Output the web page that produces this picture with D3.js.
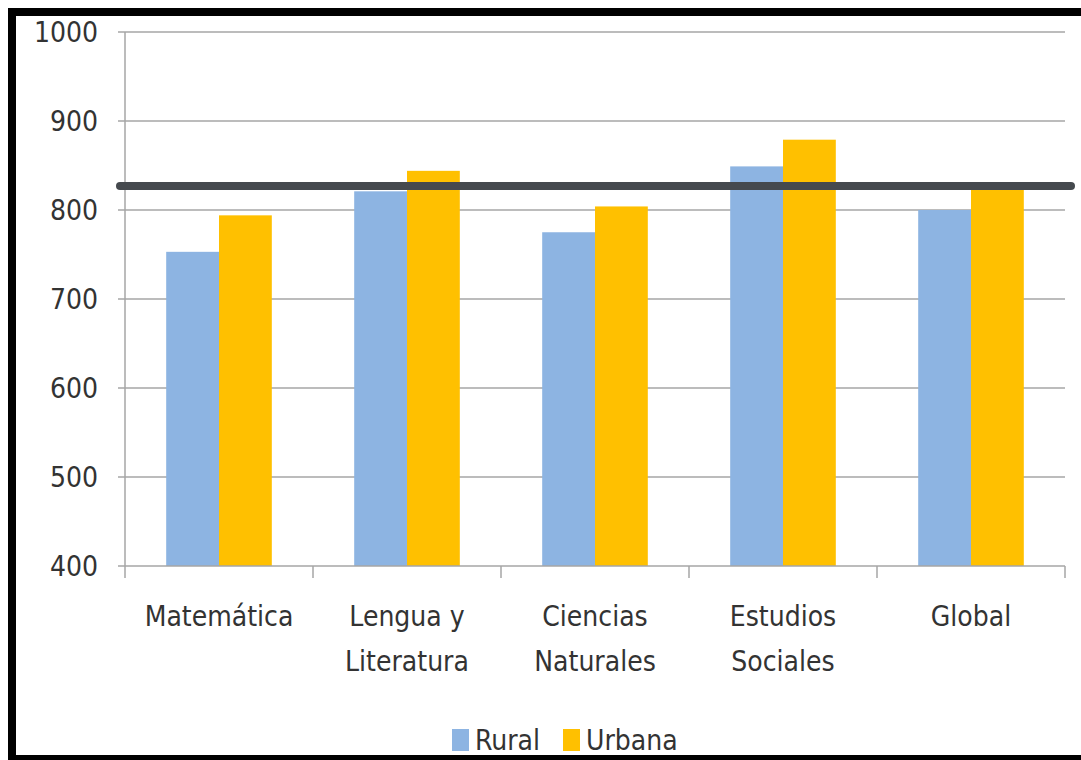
<!DOCTYPE html>
<html>
<head>
<meta charset="utf-8">
<script src="https://cdn.jsdelivr.net/npm/d3@7"></script>
<style>
  body { margin: 0; background: #fff; }
  svg text { font-family: "Liberation Sans Narrow", "DejaVu Sans Condensed", sans-serif; fill: #333; }
</style>
</head>
<body>
<svg id="chart" width="1081" height="760"></svg>
<script>
const categories = [['Matemática'], ['Lengua y', 'Literatura'], ['Ciencias', 'Naturales'], ['Estudios', 'Sociales'], ['Global']];
const series = ['Rural', 'Urbana'];
const rural = [753, 821, 775, 849, 800];
const urbana = [794, 844, 804, 879, 826];
const refValue = 827;
const yTicks = [400, 500, 600, 700, 800, 900, 1000];
const colors = ['#8db4e2', '#ffc000'];

const svg = d3.select('#chart');
const plotLeft = 125, plotRight = 1065, plotTop = 32, plotBottom = 566;

const x = d3.scaleBand().domain(d3.range(categories.length)).range([plotLeft, plotRight]);
const xInner = d3.scaleBand().domain(series).range([0, x.bandwidth()]).paddingOuter(0.78).paddingInner(0);
const y = d3.scaleLinear().domain([400, 1000]).range([plotBottom, plotTop]);

// gridlines
svg.append('g').selectAll('line').data(yTicks.slice(1)).join('line')
  .attr('x1', plotLeft).attr('x2', plotRight)
  .attr('y1', d => y(d)).attr('y2', d => y(d))
  .attr('stroke', '#a6a6a6').attr('stroke-width', 1.5);

// y axis
svg.append('line').attr('x1', plotLeft).attr('x2', plotLeft).attr('y1', plotTop).attr('y2', plotBottom)
  .attr('stroke', '#a6a6a6').attr('stroke-width', 1.5);
svg.append('g').selectAll('line').data(yTicks).join('line')
  .attr('x1', plotLeft - 7).attr('x2', plotLeft)
  .attr('y1', d => y(d)).attr('y2', d => y(d))
  .attr('stroke', '#a6a6a6').attr('stroke-width', 1.5);
svg.append('g').selectAll('text').data(yTicks).join('text')
  .attr('x', plotLeft - 27).attr('y', d => y(d) + 10)
  .attr('text-anchor', 'end').attr('font-size', 28)
  .text(d => d);

// bars
const data = categories.map((c, i) => [rural[i], urbana[i]]);
const g = svg.append('g').selectAll('g').data(data).join('g')
  .attr('transform', (d, i) => `translate(${x(i)},0)`);
g.selectAll('rect').data(d => d.map((v, j) => ({ s: series[j], v: v, j: j }))).join('rect')
  .attr('x', d => xInner(d.s))
  .attr('width', xInner.bandwidth())
  .attr('y', d => y(d.v))
  .attr('height', d => plotBottom - y(d.v))
  .attr('fill', d => colors[d.j]);

// x axis
svg.append('line').attr('x1', plotLeft).attr('x2', plotRight).attr('y1', plotBottom).attr('y2', plotBottom)
  .attr('stroke', '#a6a6a6').attr('stroke-width', 1.5);
svg.append('g').selectAll('line').data(d3.range(categories.length + 1)).join('line')
  .attr('x1', i => plotLeft + i * x.step()).attr('x2', i => plotLeft + i * x.step())
  .attr('y1', plotBottom).attr('y2', plotBottom + 12)
  .attr('stroke', '#a6a6a6').attr('stroke-width', 1.5);
const labels = svg.append('g').selectAll('text').data(categories).join('text')
  .attr('text-anchor', 'middle').attr('font-size', 28)
  .attr('transform', (d, i) => `translate(${x(i) + x.bandwidth() / 2},626)`);
labels.selectAll('tspan').data(d => d).join('tspan')
  .attr('x', 0).attr('y', (d, i) => i * 45)
  .text(d => d);

// reference line
svg.append('line').attr('x1', 120).attr('x2', 1071)
  .attr('y1', y(refValue)).attr('y2', y(refValue))
  .attr('stroke', '#45494e').attr('stroke-width', 8).attr('stroke-linecap', 'round');

// legend
const legendX = [452, 563];
const lg = svg.append('g').selectAll('g').data(series).join('g')
  .attr('transform', (d, i) => `translate(${legendX[i]},729)`);
lg.append('rect').attr('width', 17).attr('height', 22).attr('fill', (d, i) => colors[i]);
lg.append('text').attr('x', 23).attr('y', 21).attr('font-size', 28).text(d => d);

// outer frame
svg.append('rect').attr('x', 8).attr('y', 8).attr('width', 1073).attr('height', 8).attr('fill', '#000');
svg.append('rect').attr('x', 8).attr('y', 8).attr('width', 8).attr('height', 752).attr('fill', '#000');
svg.append('rect').attr('x', 8).attr('y', 755).attr('width', 1073).attr('height', 5).attr('fill', '#000');
</script>
</body>
</html>
